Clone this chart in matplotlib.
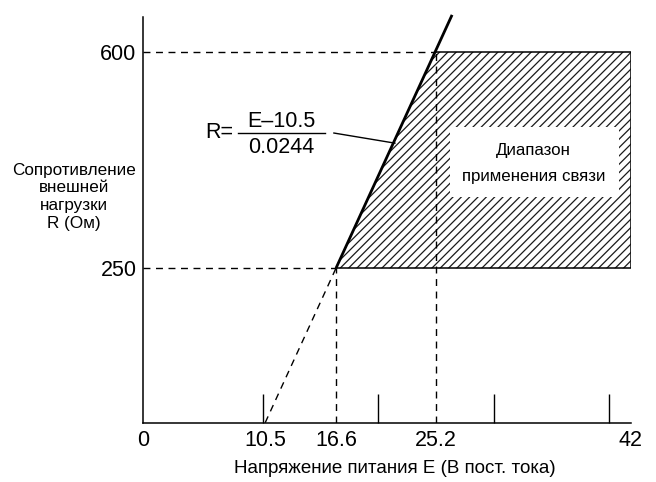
import numpy as np
import matplotlib.pyplot as plt
from matplotlib.patches import Polygon, Rectangle

plt.rcParams['font.family'] = ['Liberation Sans', 'DejaVu Sans']
plt.rcParams['hatch.linewidth'] = 0.9

# data
e_min = 10.5          # E where R = 0
k = 0.0244            # slope of R = (E - 10.5) / 0.0244
e_low, e_high = 16.6, 25.2
r_low, r_high = 250, 600
e_max = 42
x_ticks = [0, 10.5, 16.6, 25.2, 42]
x_minor = [10.3, 20.2, 30.2, 40.1]
y_ticks = [250, 600]


def r_of_e(e):
    return (e - e_min) / k


fig = plt.figure(figsize=(6.56, 4.82), dpi=100)
ax = fig.add_axes([0.2185, 0.123, 0.743, 0.841])
ax.set_xlim(0, e_max)
ax.set_ylim(0, 656)

ax.spines['top'].set_visible(False)
ax.spines['right'].set_visible(False)
ax.spines['left'].set_linewidth(1.1)
ax.spines['bottom'].set_linewidth(1.1)

# hatched region
region = Polygon([(e_low, r_low), (e_high, r_high), (e_max, r_high), (e_max, r_low)],
                 closed=True, facecolor='none', edgecolor='#1a1a1a',
                 hatch='////', linewidth=0)
ax.add_patch(region)

# borders of region
ax.plot([e_high, e_max, e_max, e_low], [r_high, r_high, r_low, r_low],
        color='black', lw=1.1)

# main line
r_top = 660
e_line = np.array([e_low, e_min + k * r_top])
ax.plot(e_line, r_of_e(e_line), color='black', lw=2.0, clip_on=False,
        solid_capstyle='butt')
# dashed extension to R = 0
e_dash = np.array([e_min, e_low])
ax.plot(e_dash, r_of_e(e_dash), color='black', lw=1.0, ls=(0, (5, 4)))

# dashed guides
dash = dict(color='black', lw=1.0, ls=(0, (5, 4)))
ax.plot([0, e_low], [r_low, r_low], **dash)
ax.plot([0, e_high], [r_high, r_high], **dash)
ax.plot([e_low, e_low], [0, r_low], **dash)
ax.plot([e_high, e_high], [0, r_high], **dash)

# ticks
ax.set_xticks(x_ticks)
ax.set_xticklabels([f'{v:g}' for v in x_ticks])
ax.set_xticks(x_minor, minor=True)
ax.set_yticks(y_ticks)
ax.tick_params(axis='both', which='major', length=0, labelsize=15.5, pad=5)
ax.tick_params(axis='x', which='minor', direction='in', length=21, width=1.0)

ax.set_xlabel('Напряжение питания E (В пост. тока)', fontsize=13.5)
ax.xaxis.set_label_coords(0.515, -0.093)
fig.text(0.113, 0.592, 'Сопротивление\nвнешней\nнагрузки\nR (Ом)', ha='center',
         va='center', fontsize=12.3, linespacing=1.22)

# formula
fig.text(0.355, 0.7137, 'R=', ha='right', va='baseline', fontsize=15.5)
fig.text(0.429, 0.7365, 'E–10.5', ha='center', va='baseline', fontsize=15.5)
fig.text(0.429, 0.6826, '0.0244', ha='center', va='baseline', fontsize=15.5)
fig.add_artist(plt.Line2D([0.3628, 0.4954], [0.724, 0.724], color='black', lw=1.0))
fig.add_artist(plt.Line2D([0.509, 0.602], [0.724, 0.703], color='black', lw=1.0))

# label box
ax.add_patch(Rectangle((26.4, 365), 14.6, 113, facecolor='white', edgecolor='none', zorder=3))
ax.text(33.6, 420, 'Диапазон\nприменения связи', ha='center', va='center',
        fontsize=12.2, linespacing=1.9, zorder=4)

fig.savefig('out.png', dpi=100)
